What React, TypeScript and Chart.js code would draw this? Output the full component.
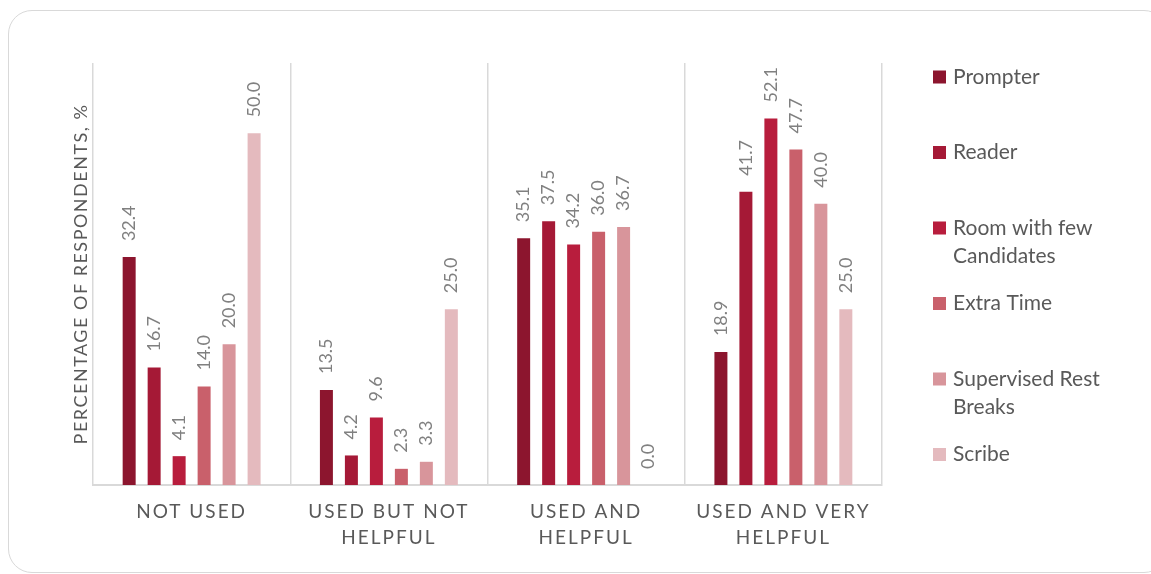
import React, { useEffect, useRef } from "react";
import { Chart, registerables, CategoryScale, LinearScale } from "chart.js";

Chart.register(...registerables);

// ---------- DATA ----------
const categories: string[][] = [
  ["NOT USED"],
  ["USED BUT NOT", "HELPFUL"],
  ["USED AND", "HELPFUL"],
  ["USED AND VERY", "HELPFUL"],
];
const seriesNames = [
  "Prompter",
  "Reader",
  "Room with few Candidates",
  "Extra Time",
  "Supervised Rest Breaks",
  "Scribe",
];
const prompter = [32.4, 13.5, 35.1, 18.9];
const reader = [16.7, 4.2, 37.5, 41.7];
const roomWithFewCandidates = [4.1, 9.6, 34.2, 52.1];
const extraTime = [14.0, 2.3, 36.0, 47.7];
const supervisedRestBreaks = [20.0, 3.3, 36.7, 40.0];
const scribe = [50.0, 25.0, 0.0, 25.0];
const seriesValues = [prompter, reader, roomWithFewCandidates, extraTime, supervisedRestBreaks, scribe];
const seriesColors = ["#8C152E", "#A51936", "#B81D3D", "#C9606B", "#D8959B", "#E4BABE"];
const yAxisTitle = "PERCENTAGE OF RESPONDENTS, %";
const yMin = 0;
const yMax = 60;

// ---------- STYLE ----------
const FONT = "Lato, 'Open Sans', sans-serif";
const TEXT_COLOR = "#595959";
const LABEL_COLOR = "#808080";
const GRID_COLOR = "#d9d9d9";

class SpacedCategoryScale extends CategoryScale {
  static id = "spacedCategory";
  drawLabels(area: any) {
    const ctx: any = (this as any).ctx;
    ctx.save();
    ctx.letterSpacing = "2px";
    super.drawLabels(area);
    ctx.letterSpacing = "0px";
    ctx.restore();
  }
}
class SpacedLinearScale extends LinearScale {
  static id = "spacedLinear";
  drawTitle() {
    const ctx: any = (this as any).ctx;
    ctx.save();
    ctx.letterSpacing = "1.5px";
    super.drawTitle();
    ctx.letterSpacing = "0px";
    ctx.restore();
  }
}
Chart.register(SpacedCategoryScale as any, SpacedLinearScale as any);

const valueLabelPlugin = {
  id: "valueLabels",
  afterDatasetsDraw(chart: any) {
    const ctx = chart.ctx;
    ctx.save();
    ctx.font = `18px ${FONT}`;
    ctx.fillStyle = LABEL_COLOR;
    ctx.textAlign = "left";
    ctx.textBaseline = "middle";
    chart.data.datasets.forEach((ds: any, di: number) => {
      const meta = chart.getDatasetMeta(di);
      meta.data.forEach((bar: any, i: number) => {
        const v = ds.data[i];
        ctx.save();
        ctx.translate(bar.x, bar.y - 16);
        ctx.rotate(-Math.PI / 2);
        ctx.fillText(v.toFixed(1), 0, 0);
        ctx.restore();
      });
    });
    ctx.restore();
  },
};

function wrapText(ctx: any, text: string, maxWidth: number): string[] {
  const words = text.split(" ");
  const lines: string[] = [];
  let cur = "";
  words.forEach((w) => {
    const test = cur ? cur + " " + w : w;
    if (ctx.measureText(test).width > maxWidth && cur) {
      lines.push(cur);
      cur = w;
    } else {
      cur = test;
    }
  });
  if (cur) lines.push(cur);
  return lines;
}

const sideLegendPlugin = {
  id: "sideLegend",
  afterDraw(chart: any) {
    const ctx = chart.ctx;
    const area = chart.chartArea;
    const x0 = area.right + 51;
    const yStart = area.top + 14;
    const step = 75.5;
    const lineH = 28.5;
    ctx.save();
    ctx.font = `21px ${FONT}`;
    ctx.textBaseline = "middle";
    ctx.textAlign = "left";
    chart.data.datasets.forEach((ds: any, i: number) => {
      const y = yStart + i * step;
      ctx.fillStyle = ds.backgroundColor;
      ctx.fillRect(x0, y - 6.5, 13, 13);
      ctx.fillStyle = TEXT_COLOR;
      const lines = wrapText(ctx, ds.label, 180);
      lines.forEach((ln, li) => ctx.fillText(ln, x0 + 20, y + li * lineH));
    });
    ctx.restore();
  },
};

export default function App() {
  const canvasRef = useRef<HTMLCanvasElement | null>(null);

  useEffect(() => {
    if (!canvasRef.current) return;
    const chart = new Chart(canvasRef.current, {
      type: "bar",
      data: {
        labels: categories,
        datasets: seriesNames.map((name, i) => ({
          label: name,
          data: seriesValues[i],
          backgroundColor: seriesColors[i],
          borderWidth: 0,
          barPercentage: 0.52,
          categoryPercentage: 0.76,
        })),
      },
      options: {
        animation: false,
        responsive: false,
        devicePixelRatio: 1,
        layout: { padding: { left: 70, right: 269, top: 63, bottom: 0 } },
        plugins: {
          legend: { display: false },
          tooltip: { enabled: false },
          title: { display: false },
        },
        scales: {
          x: {
            type: "spacedCategory" as any,
            offset: true,
            grid: { display: true, offset: true, color: GRID_COLOR, lineWidth: 1.5, drawTicks: false },
            border: { display: true, color: GRID_COLOR, width: 2 },
            ticks: {
              color: TEXT_COLOR,
              font: { family: FONT, size: 19, lineHeight: 1.37 },
              padding: 14,
              maxRotation: 0,
              autoSkip: false,
            },
            afterFit: (s: any) => {
              s.height = 89;
            },
          },
          y: {
            type: "spacedLinear" as any,
            min: yMin,
            max: yMax,
            grid: { display: false },
            border: { display: false },
            ticks: { display: false },
            title: {
              display: true,
              text: yAxisTitle,
              color: TEXT_COLOR,
              font: { family: FONT, size: 18, lineHeight: 1.2 },
              padding: 0,
            },
            afterFit: (s: any) => {
              s.width = 23;
            },
          },
        },
      },
      plugins: [valueLabelPlugin, sideLegendPlugin],
    });
    return () => chart.destroy();
  }, []);

  return (
    <div style={{ position: "fixed", left: 0, top: 0, width: 1151, height: 574, overflow: "hidden", background: "#fff" }}>
      <div
        style={{
          position: "absolute",
          left: 8,
          top: 10,
          width: 1160,
          height: 563,
          border: "1.5px solid #d9d9d9",
          borderRadius: 24,
          boxSizing: "border-box",
        }}
      />
      <canvas
        ref={canvasRef}
        width={1151}
        height={574}
        style={{ position: "absolute", left: 0, top: 0, width: 1151, height: 574, display: "block" }}
      />
    </div>
  );
}
